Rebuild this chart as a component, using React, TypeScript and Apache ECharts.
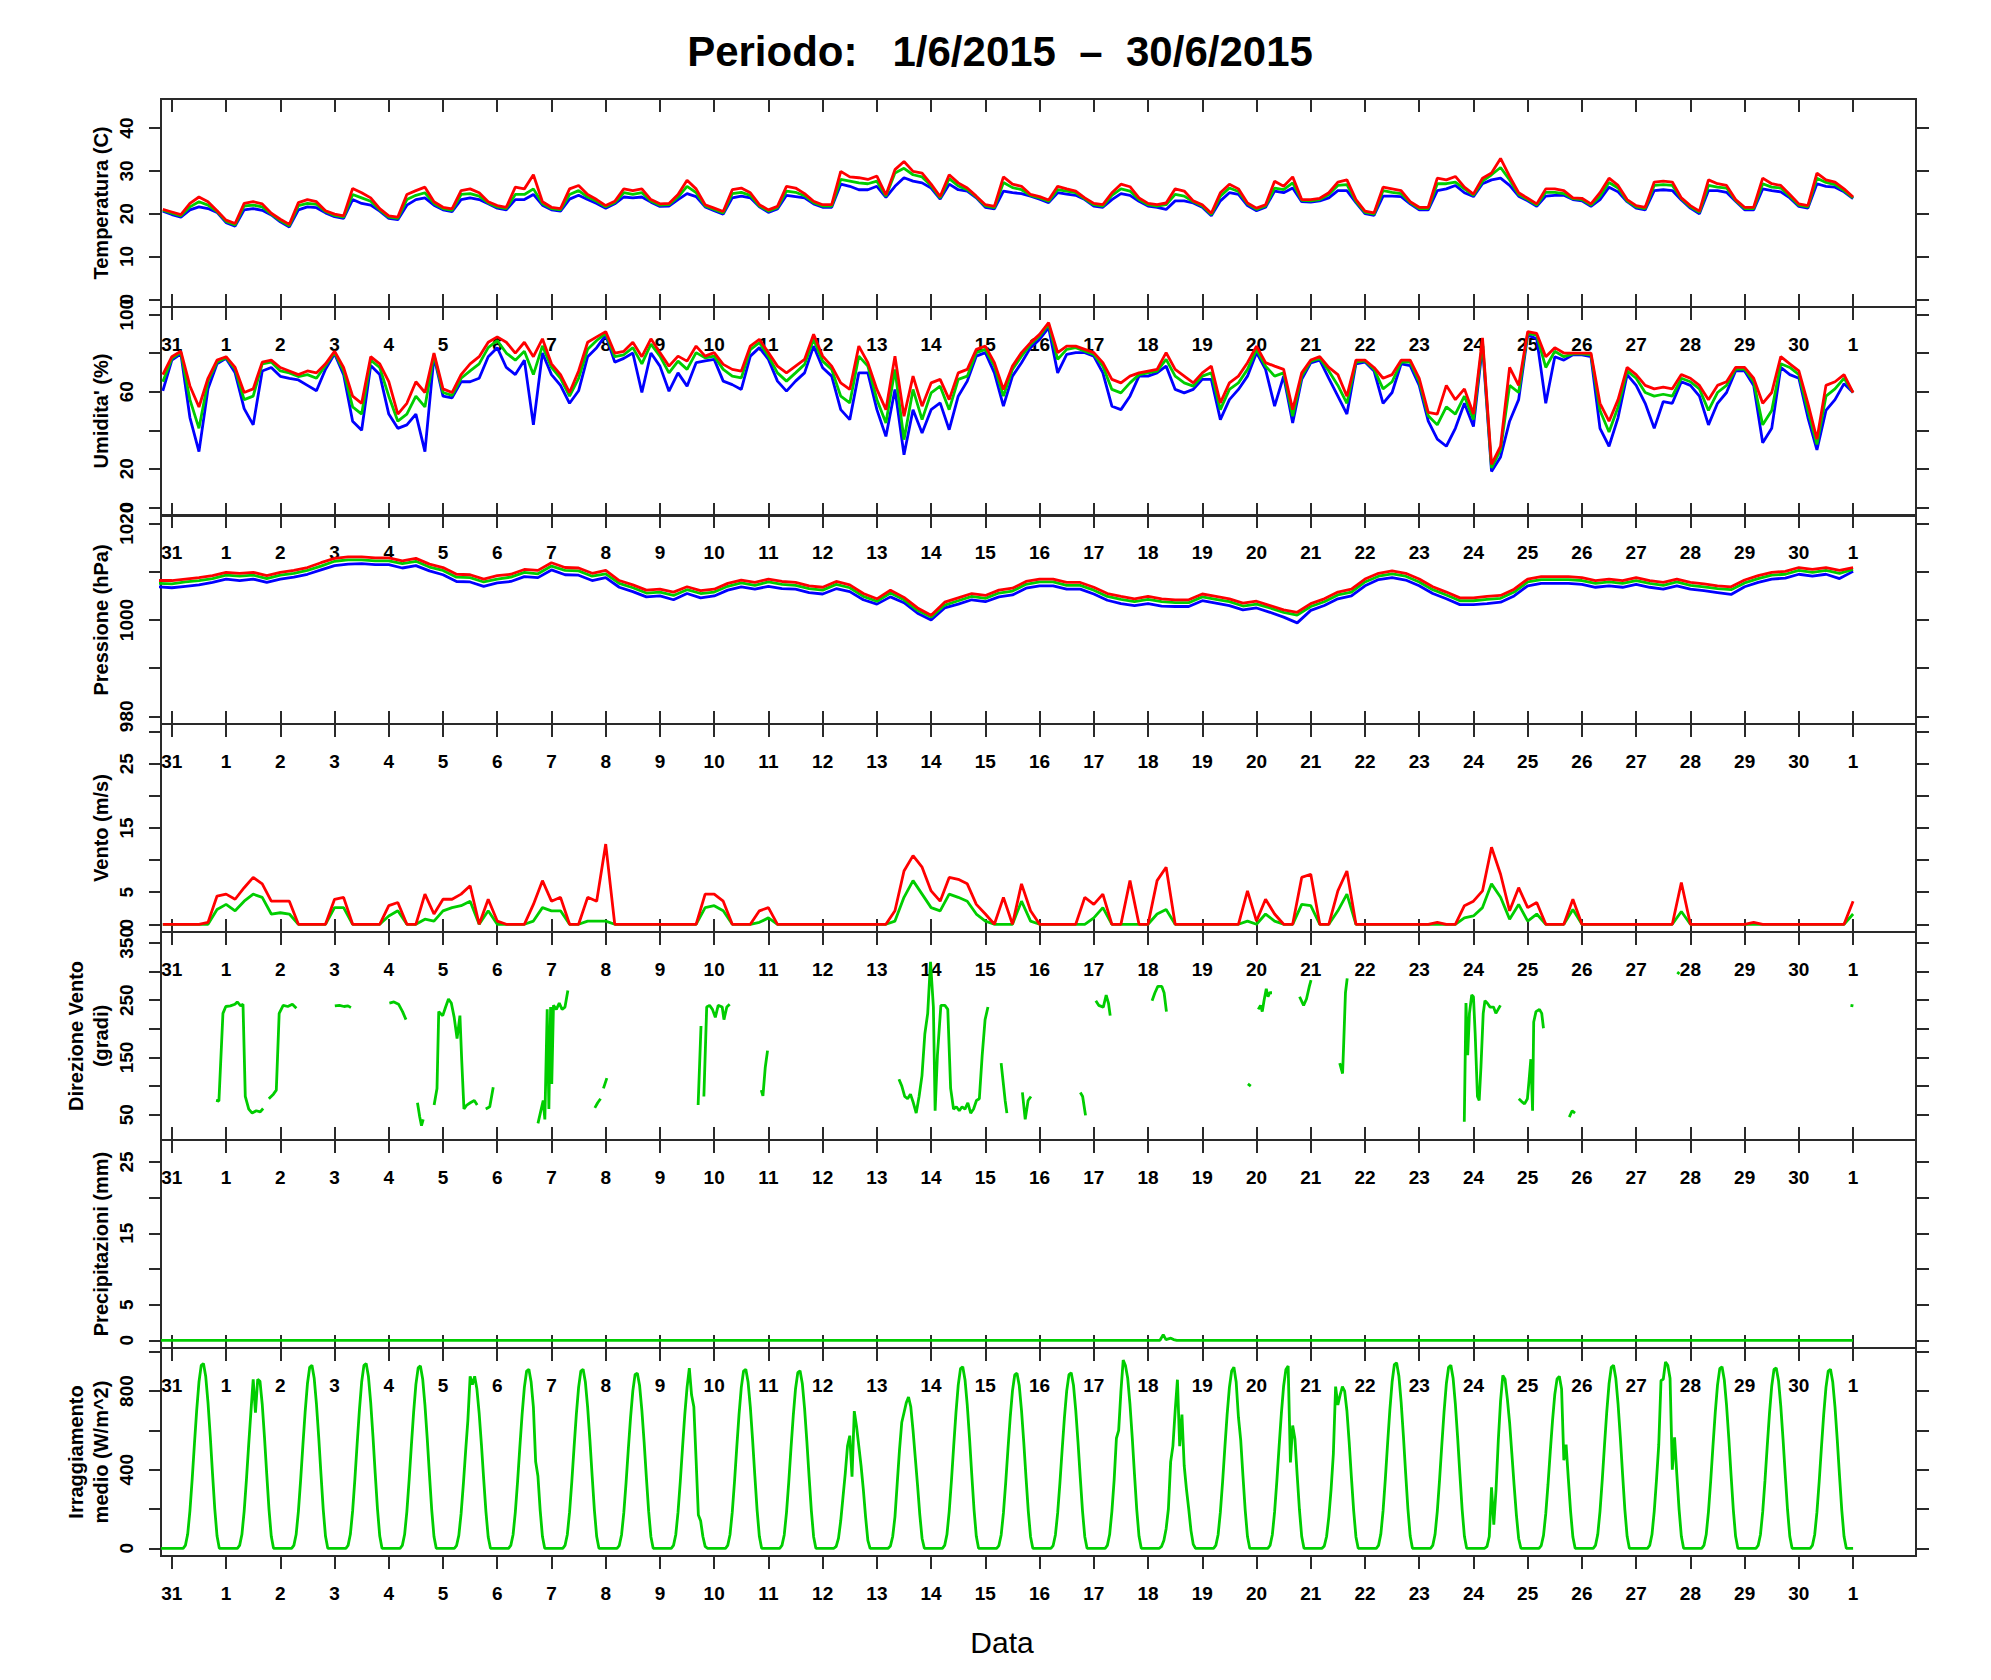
import React, { useEffect, useRef } from 'react';
import * as echarts from 'echarts';

// ---------- x axis (days) ----------
const DAY_LABELS = ['31', '1', '2', '3', '4', '5', '6', '7', '8', '9', '10', '11', '12', '13', '14', '15', '16', '17', '18', '19', '20', '21', '22', '23', '24', '25', '26', '27', '28', '29', '30', '1'];
const X_MIN = -0.2;
const X_MAX = 32.16;

// ---------- Temperature (C), 4-hour samples, first at k=-1/6 ----------
const TEMP_MAX = [
  21.0,
  20.4, 19.8, 22.4, 23.9, 22.8, 20.7,
  18.5, 17.7, 22.4, 22.8, 22.3, 20.1,
  18.7, 17.5, 22.6, 23.3, 22.8, 20.7,
  19.9, 19.5, 25.9, 24.9, 23.7, 21.2,
  19.5, 19.2, 24.5, 25.4, 26.2, 22.8,
  21.5, 21.1, 25.4, 25.8, 24.9, 22.8,
  21.9, 21.5, 26.2, 25.8, 29.1, 22.8,
  21.5, 21.2, 25.8, 26.6, 24.5, 23.3,
  21.9, 22.9, 25.8, 25.4, 25.8, 23.3,
  22.3, 22.4, 24.5, 27.8, 25.8, 22.1,
  21.3, 20.5, 25.6, 26.0, 24.9, 22.1,
  20.9, 21.7, 26.4, 26.0, 24.7, 22.9,
  22.1, 22.1, 29.9, 28.6, 28.4, 28.0,
  28.8, 24.4, 30.3, 32.2, 29.9, 29.5,
  26.9, 24.0, 29.1, 27.2, 26.0, 24.1,
  22.1, 21.7, 28.6, 26.9, 26.4, 24.5,
  24.0, 23.2, 26.4, 25.8, 25.3, 23.7,
  22.4, 22.1, 24.9, 26.9, 26.3, 23.7,
  22.4, 22.1, 22.5, 25.8, 25.3, 23.0,
  22.1, 20.1, 24.9, 26.9, 25.8, 22.5,
  21.3, 22.1, 27.6, 26.4, 28.6, 23.3,
  23.3, 23.6, 24.9, 27.4, 27.9, 23.3,
  20.6, 20.2, 26.2, 25.8, 25.4, 22.8,
  21.5, 21.5, 28.3, 27.9, 28.7, 26.2,
  24.6, 28.3, 29.5, 32.9, 28.7, 24.9,
  23.6, 22.3, 25.8, 25.8, 25.4, 23.7,
  23.6, 22.3, 24.9, 28.3, 26.6, 23.3,
  21.9, 21.5, 27.4, 27.6, 27.4, 23.7,
  21.9, 20.6, 27.9, 27.0, 26.6, 23.3,
  21.5, 21.5, 28.3, 27.0, 26.6, 24.5,
  22.3, 21.9, 29.5, 27.9, 27.4, 25.8,
  23.9,
];
const TEMP_MEAN = [
  20.8,
  20.1, 19.5, 21.6, 22.8, 22.0, 20.5,
  18.2, 17.4, 21.8, 22.0, 21.6, 19.9,
  18.4, 17.2, 21.9, 22.4, 22.2, 20.5,
  19.6, 19.2, 24.5, 23.7, 22.9, 20.9,
  19.2, 18.9, 23.3, 24.3, 24.9, 22.4,
  21.2, 20.8, 24.5, 24.7, 24.1, 22.5,
  21.6, 21.2, 24.5, 24.5, 25.8, 22.4,
  21.2, 20.9, 24.5, 25.4, 23.9, 22.9,
  21.6, 22.6, 24.9, 24.5, 24.9, 23.0,
  22.0, 22.1, 23.9, 26.4, 24.9, 21.8,
  21.0, 20.2, 24.7, 25.0, 24.3, 21.8,
  20.6, 21.4, 25.3, 25.0, 24.2, 22.6,
  21.8, 21.8, 28.0, 27.6, 27.2, 27.0,
  27.6, 24.1, 29.5, 30.6, 29.1, 28.6,
  26.5, 23.7, 28.2, 26.5, 25.6, 23.9,
  21.8, 21.4, 27.3, 26.1, 25.6, 24.3,
  23.7, 22.9, 25.6, 25.3, 24.9, 23.5,
  22.1, 21.8, 24.3, 25.8, 25.3, 23.3,
  22.1, 21.8, 22.1, 24.5, 24.1, 22.8,
  21.8, 19.8, 24.1, 26.0, 25.2, 22.3,
  21.0, 21.8, 26.0, 25.6, 27.2, 23.1,
  23.0, 23.3, 24.5, 26.6, 26.8, 22.9,
  20.3, 19.9, 25.4, 25.0, 24.7, 22.6,
  21.2, 21.2, 27.0, 27.0, 27.4, 25.8,
  24.3, 27.6, 29.1, 30.8, 27.9, 24.5,
  23.3, 22.0, 25.0, 25.0, 24.7, 23.5,
  23.3, 22.0, 24.1, 27.3, 26.0, 23.0,
  21.6, 21.2, 26.6, 26.8, 26.6, 23.5,
  21.6, 20.3, 26.6, 26.2, 26.0, 23.1,
  21.2, 21.2, 27.0, 26.2, 26.0, 24.1,
  22.0, 21.6, 28.3, 27.3, 26.8, 25.4,
  23.7,
];
const TEMP_MIN = [
  20.6,
  19.8, 19.2, 20.9, 21.6, 21.2, 20.3,
  17.9, 17.1, 20.9, 21.2, 20.8, 19.7,
  18.1, 16.9, 20.9, 21.6, 21.4, 20.2,
  19.3, 18.9, 23.3, 22.4, 22.0, 20.6,
  18.9, 18.6, 22.0, 23.3, 23.7, 22.0,
  20.9, 20.5, 23.3, 23.7, 23.3, 22.3,
  21.3, 20.9, 23.3, 23.3, 24.5, 22.0,
  20.9, 20.6, 23.4, 24.3, 23.3, 22.4,
  21.3, 22.3, 23.9, 23.7, 23.9, 22.7,
  21.7, 21.8, 23.3, 24.7, 24.0, 21.6,
  20.7, 19.9, 23.7, 24.1, 23.7, 21.6,
  20.3, 21.1, 24.3, 24.0, 23.7, 22.3,
  21.5, 21.5, 26.9, 26.4, 25.6, 25.6,
  26.4, 23.8, 26.4, 28.4, 27.6, 27.2,
  26.0, 23.4, 26.9, 25.6, 25.3, 23.7,
  21.5, 21.1, 25.3, 24.9, 24.7, 24.1,
  23.4, 22.6, 24.9, 24.6, 24.3, 23.3,
  21.8, 21.5, 23.3, 24.7, 24.3, 22.9,
  21.8, 21.5, 21.0, 23.0, 23.0, 22.5,
  21.5, 19.5, 23.0, 24.9, 24.5, 21.9,
  20.7, 21.5, 25.3, 24.9, 26.0, 22.8,
  22.7, 23.0, 23.7, 25.4, 25.4, 22.6,
  20.0, 19.6, 24.1, 24.1, 24.0, 22.3,
  20.9, 20.9, 25.4, 25.8, 26.6, 24.9,
  24.0, 27.0, 27.9, 28.3, 26.6, 24.1,
  23.0, 21.7, 24.1, 24.3, 24.3, 23.3,
  23.0, 21.7, 23.3, 26.2, 25.1, 22.8,
  21.3, 20.9, 25.4, 25.6, 25.4, 23.2,
  21.3, 20.0, 25.4, 25.4, 25.0, 22.9,
  20.9, 20.9, 25.8, 25.4, 25.1, 23.7,
  21.7, 21.3, 27.0, 26.4, 26.2, 25.1,
  23.5,
];

// ---------- Humidity (%), 4-hour samples ----------
const HUM_MAX = [
  68.9,
  78.2, 81.0, 63.0, 52.1, 67.0, 76.4,
  78.2, 72.6, 59.6, 61.5, 75.4, 76.4,
  72.6, 70.8, 68.9, 70.8, 69.8, 74.5,
  81.0, 72.6, 57.7, 54.0, 78.2, 74.5,
  65.2, 48.4, 54.0, 65.2, 59.6, 80.1,
  61.5, 59.6, 68.9, 74.5, 78.2, 85.7,
  88.5, 85.7, 80.1, 85.7, 78.2, 87.5,
  74.5, 68.9, 59.6, 70.8, 85.7, 88.5,
  91.2, 80.1, 81.0, 85.7, 78.2, 87.5,
  80.3, 73.3, 78.5, 75.9, 83.7, 78.5,
  80.3, 74.2, 71.6, 70.7, 83.7, 87.2,
  80.3, 73.3, 69.8, 73.3, 76.8, 89.8,
  78.5, 73.3, 64.6, 61.2, 83.7, 75.1,
  61.2, 50.7, 78.5, 47.3, 68.1, 52.5,
  64.6, 66.4, 55.9, 69.8, 71.6, 82.0,
  83.7, 75.1, 61.2, 73.3, 80.3, 85.5,
  89.8, 95.9, 80.3, 83.7, 83.7, 82.0,
  80.3, 75.1, 66.4, 64.6, 68.1, 69.8,
  70.7, 71.6, 80.3, 71.6, 68.1, 64.6,
  69.8, 73.3, 54.2, 64.6, 68.1, 75.1,
  83.7, 75.1, 73.3, 71.6, 50.7, 69.8,
  76.5, 78.2, 72.6, 68.9, 57.7, 76.4,
  76.4, 72.6, 67.0, 68.9, 76.4, 76.4,
  67.0, 49.3, 48.4, 63.3, 55.9, 61.5,
  48.4, 88.0, 22.3, 31.7, 72.6, 63.3,
  91.2, 90.3, 78.2, 82.9, 80.1, 80.1,
  80.1, 80.1, 54.0, 44.7, 55.9, 72.6,
  68.9, 63.3, 61.5, 62.4, 61.5, 68.9,
  67.0, 63.3, 55.9, 63.3, 65.2, 72.6,
  72.6, 67.0, 54.0, 59.6, 78.2, 74.5,
  70.8, 54.0, 35.4, 63.3, 65.2, 68.9,
  59.6,
];
const HUM_MEAN = [
  65.2,
  77.3, 80.4, 55.9, 41.0, 65.5, 75.4,
  77.7, 71.7, 55.9, 57.7, 74.5, 75.4,
  70.8, 69.8, 67.9, 68.9, 67.0, 73.6,
  80.4, 70.8, 52.1, 48.4, 76.4, 72.6,
  57.7, 44.7, 48.4, 57.7, 52.1, 79.2,
  59.6, 58.1, 67.0, 70.8, 74.5, 82.9,
  86.6, 80.1, 76.4, 81.0, 68.9, 83.8,
  72.6, 67.0, 57.7, 67.0, 82.0, 86.6,
  90.3, 78.2, 79.2, 82.9, 74.5, 84.7,
  78.5, 69.8, 75.9, 71.6, 80.3, 77.6,
  78.5, 71.6, 68.1, 67.2, 81.9, 85.5,
  78.5, 69.8, 65.5, 69.8, 74.2, 87.2,
  75.9, 71.6, 57.7, 54.2, 78.5, 73.3,
  56.0, 43.8, 71.6, 35.1, 61.2, 45.5,
  59.4, 62.9, 50.7, 66.4, 68.1, 80.3,
  82.0, 73.3, 57.7, 71.6, 78.5, 84.6,
  88.9, 95.0, 76.8, 82.0, 82.9, 81.1,
  79.4, 73.3, 61.2, 59.4, 64.6, 68.9,
  69.8, 70.7, 76.8, 68.1, 64.6, 62.9,
  68.1, 69.8, 50.7, 61.2, 64.6, 71.6,
  82.0, 73.3, 68.1, 69.8, 47.3, 68.1,
  75.8, 77.3, 70.8, 63.3, 54.0, 75.4,
  76.0, 71.7, 61.5, 65.2, 75.4, 75.4,
  65.2, 47.5, 42.8, 52.1, 48.4, 57.7,
  45.6, 86.0, 20.5, 29.8, 63.3, 59.6,
  90.3, 89.4, 72.6, 81.0, 78.2, 79.7,
  79.7, 79.2, 50.3, 39.1, 52.1, 70.8,
  67.0, 59.6, 57.7, 58.7, 57.7, 67.0,
  65.2, 61.5, 50.3, 59.6, 63.3, 71.7,
  71.7, 65.2, 42.8, 50.3, 74.5, 72.6,
  68.9, 50.3, 32.6, 57.7, 61.5, 67.0,
  59.6,
];
const HUM_MIN = [
  60.5,
  76.4, 79.7, 46.6, 28.9, 61.5, 74.5,
  77.3, 69.8, 51.2, 42.8, 70.8, 72.6,
  68.0, 67.0, 66.1, 63.3, 60.5, 71.7,
  79.7, 68.9, 44.7, 40.0, 73.6, 68.9,
  48.4, 41.0, 42.8, 48.4, 28.9, 78.2,
  57.7, 56.8, 65.2, 65.2, 67.0, 78.2,
  82.9, 72.6, 68.9, 76.4, 42.8, 80.1,
  68.9, 63.3, 54.0, 60.5, 78.2, 82.9,
  89.4, 75.4, 77.3, 80.1, 59.6, 80.1,
  73.3, 60.3, 69.8, 62.9, 75.1, 76.0,
  76.8, 65.5, 63.7, 61.2, 78.5, 82.9,
  76.8, 65.5, 60.3, 65.5, 69.8, 83.7,
  72.5, 68.1, 50.7, 45.5, 69.8, 69.8,
  50.7, 36.8, 61.2, 27.3, 50.7, 38.6,
  50.7, 54.2, 40.3, 57.7, 65.5, 78.5,
  80.3, 69.8, 52.5, 68.1, 75.1, 82.9,
  87.2, 93.3, 69.8, 79.4, 80.3, 80.3,
  78.5, 69.8, 52.5, 50.7, 57.7, 68.1,
  68.1, 69.8, 73.3, 61.2, 59.4, 61.2,
  66.4, 66.4, 45.5, 55.9, 61.2, 68.1,
  80.3, 71.6, 52.5, 68.1, 43.8, 66.4,
  75.0, 76.4, 67.0, 57.7, 48.4, 74.5,
  75.4, 70.8, 54.0, 59.6, 74.5, 73.6,
  63.3, 44.7, 35.4, 31.7, 41.0, 54.0,
  41.9, 84.0, 18.6, 26.1, 44.7, 55.9,
  89.4, 87.5, 54.0, 78.2, 76.4, 79.2,
  79.2, 78.2, 41.0, 31.7, 46.6, 68.9,
  63.3, 54.0, 41.0, 54.9, 54.0, 65.2,
  63.3, 57.7, 42.8, 54.0, 59.6, 70.8,
  70.8, 63.3, 33.5, 41.0, 72.6, 68.9,
  67.0, 46.6, 29.8, 50.3, 55.9, 64.2,
  59.6,
];

// ---------- Pressure (hPa), 6-hour samples, first at k=-0.25 ----------
const PRES_MAX = [
  1008.2,
  1008.2, 1008.5, 1008.8, 1009.2,
  1009.9, 1009.7, 1009.9, 1009.2,
  1009.9, 1010.3, 1010.9, 1011.9,
  1012.8, 1013.1, 1013.1, 1012.9,
  1012.9, 1012.3, 1012.8, 1011.6,
  1010.9, 1009.5, 1009.4, 1008.5,
  1009.2, 1009.5, 1010.5, 1010.3,
  1011.9, 1010.9, 1010.8, 1009.7,
  1010.3, 1008.2, 1007.3, 1006.2,
  1006.4, 1005.8, 1006.9, 1006.1,
  1006.4, 1007.6, 1008.3, 1007.8,
  1008.5, 1008.0, 1007.8, 1007.1,
  1006.8, 1008.0, 1007.3, 1005.5,
  1004.4, 1006.2, 1004.7, 1002.5,
  1001.0, 1003.7, 1004.6, 1005.5,
  1005.1, 1006.2, 1006.6, 1008.0,
  1008.5, 1008.5, 1007.8, 1007.8,
  1006.8, 1005.5, 1004.9, 1004.4,
  1004.9, 1004.4, 1004.2, 1004.2,
  1005.4, 1004.9, 1004.4, 1003.5,
  1003.9, 1003.0, 1002.1, 1001.6,
  1003.4, 1004.4, 1005.8, 1006.4,
  1008.5, 1009.7, 1010.2, 1009.7,
  1008.5, 1006.9, 1005.8, 1004.6,
  1004.6, 1004.9, 1005.1, 1006.4,
  1008.5, 1009.0, 1009.0, 1009.0,
  1008.8, 1008.2, 1008.5, 1008.2,
  1008.8, 1008.2, 1007.8, 1008.5,
  1007.8, 1007.5, 1007.1, 1006.9,
  1008.3, 1009.2, 1009.9, 1010.1,
  1010.9, 1010.5, 1010.9, 1010.3,
  1010.9,
];
const PRES_MEAN = [
  1007.6,
  1007.5, 1007.9, 1008.2, 1008.6,
  1009.3, 1009.1, 1009.3, 1008.6,
  1009.3, 1009.7, 1010.3, 1011.2,
  1012.2, 1012.5, 1012.5, 1012.3,
  1012.3, 1011.7, 1012.2, 1011.0,
  1010.3, 1008.9, 1008.8, 1007.9,
  1008.5, 1008.9, 1009.9, 1009.6,
  1011.2, 1010.3, 1010.2, 1009.1,
  1009.6, 1007.6, 1006.7, 1005.6,
  1005.8, 1005.1, 1006.3, 1005.5,
  1005.8, 1007.0, 1007.7, 1007.2,
  1007.9, 1007.4, 1007.2, 1006.5,
  1006.2, 1007.4, 1006.7, 1004.9,
  1003.9, 1005.6, 1004.2, 1002.0,
  1000.6, 1003.1, 1004.0, 1004.9,
  1004.5, 1005.6, 1006.0, 1007.4,
  1007.9, 1007.9, 1007.2, 1007.2,
  1006.2, 1004.9, 1004.3, 1003.8,
  1004.3, 1003.8, 1003.6, 1003.6,
  1004.8, 1004.3, 1003.8, 1002.9,
  1003.3, 1002.5, 1001.6, 1001.0,
  1002.8, 1003.8, 1005.2, 1005.8,
  1007.9, 1009.1, 1009.6, 1009.1,
  1007.9, 1006.3, 1005.2, 1004.0,
  1004.0, 1004.3, 1004.5, 1005.8,
  1007.9, 1008.4, 1008.4, 1008.4,
  1008.2, 1007.6, 1007.9, 1007.6,
  1008.2, 1007.6, 1007.2, 1007.9,
  1007.2, 1006.9, 1006.5, 1006.3,
  1007.7, 1008.6, 1009.3, 1009.5,
  1010.3, 1009.9, 1010.3, 1009.7,
  1010.5,
];
const PRES_MIN = [
  1006.9,
  1006.7, 1007.0, 1007.3, 1007.8,
  1008.5, 1008.2, 1008.5, 1007.8,
  1008.5, 1008.9, 1009.5, 1010.4,
  1011.3, 1011.6, 1011.7, 1011.5,
  1011.5, 1010.8, 1011.3, 1010.2,
  1009.4, 1008.0, 1007.9, 1007.0,
  1007.7, 1008.0, 1009.0, 1008.8,
  1010.4, 1009.4, 1009.3, 1008.2,
  1008.8, 1006.8, 1005.9, 1004.8,
  1005.0, 1004.2, 1005.5, 1004.6,
  1005.0, 1006.2, 1006.9, 1006.4,
  1007.0, 1006.5, 1006.4, 1005.7,
  1005.4, 1006.5, 1005.9, 1004.2,
  1003.3, 1004.8, 1003.6, 1001.4,
  1000.0, 1002.5, 1003.3, 1004.2,
  1003.8, 1004.8, 1005.2, 1006.6,
  1007.1, 1007.1, 1006.4, 1006.4,
  1005.4, 1004.1, 1003.4, 1003.0,
  1003.4, 1002.9, 1002.8, 1002.8,
  1004.0, 1003.5, 1003.0, 1002.1,
  1002.5, 1001.6, 1000.6, 999.4,
  1002.0, 1003.0, 1004.4, 1005.0,
  1007.1, 1008.4, 1008.8, 1008.3,
  1007.1, 1005.5, 1004.4, 1003.2,
  1003.2, 1003.4, 1003.7, 1005.0,
  1007.1, 1007.6, 1007.6, 1007.6,
  1007.4, 1006.8, 1007.1, 1006.8,
  1007.4, 1006.8, 1006.4, 1007.1,
  1006.4, 1006.1, 1005.7, 1005.3,
  1006.9, 1007.8, 1008.5, 1008.7,
  1009.5, 1009.1, 1009.5, 1008.6,
  1010.1,
];

// ---------- Wind (m/s), 4-hour samples ----------
const WIND_GUST = [
  0,
  0, 0, 0, 0, 0.3, 4.4,
  4.7, 3.9, 5.7, 7.3, 6.3, 3.6,
  3.6, 3.6, 0, 0, 0, 0,
  3.9, 4.2, 0, 0, 0, 0,
  2.9, 3.4, 0, 0, 4.7, 1.6,
  3.9, 3.9, 4.7, 6.0, 0, 3.9,
  0.5, 0, 0, 0, 3.1, 6.8,
  3.6, 4.2, 0, 0, 4.2, 3.6,
  12.5, 0, 0, 0, 0, 0,
  0, 0, 0, 0, 0, 4.7,
  4.7, 3.6, 0, 0, 0, 2.1,
  2.6, 0, 0, 0, 0, 0,
  0, 0, 0, 0, 0, 0,
  0, 0, 2.1, 8.3, 10.7, 8.9,
  5.2, 3.6, 7.3, 7.0, 6.3, 3.1,
  1.6, 0, 4.2, 0, 6.3, 2.1,
  0, 0, 0, 0, 0, 4.2,
  3.1, 4.7, 0, 0, 6.8, 0,
  0, 6.8, 8.9, 0, 0, 0,
  0, 0, 0, 0, 0, 5.2,
  0.5, 3.9, 1.6, 0, 0, 7.3,
  7.8, 0, 0, 5.2, 8.3, 0,
  0, 0, 0, 0, 0, 0,
  0, 0, 0.3, 0, 0, 2.9,
  3.6, 5.2, 12.0, 7.8, 2.1, 5.7,
  2.6, 3.4, 0, 0, 0, 3.9,
  0, 0, 0, 0, 0, 0,
  0, 0, 0, 0, 0, 6.5,
  0, 0, 0, 0, 0, 0,
  0, 0.3, 0, 0, 0, 0,
  0, 0, 0, 0, 0, 0,
  3.6,
];
const WIND_MEAN = [
  0,
  0, 0, 0, 0, 0, 2.3,
  3.1, 2.1, 3.6, 4.7, 4.2, 1.6,
  1.8, 1.6, 0, 0, 0, 0,
  2.6, 2.6, 0, 0, 0, 0,
  1.3, 2.1, 0, 0, 0.8, 0.5,
  2.1, 2.6, 2.9, 3.6, 0, 2.1,
  0, 0, 0, 0, 0.5, 2.6,
  2.1, 2.1, 0, 0, 0.5, 0.5,
  0.5, 0, 0, 0, 0, 0,
  0, 0, 0, 0, 0, 2.6,
  2.9, 2.1, 0, 0, 0, 0.3,
  1.0, 0, 0, 0, 0, 0,
  0, 0, 0, 0, 0, 0,
  0, 0, 0.5, 4.2, 6.8, 4.7,
  2.6, 2.1, 4.7, 4.2, 3.6, 1.6,
  0.5, 0, 0, 0, 3.6, 0.5,
  0, 0, 0, 0, 0, 0,
  1.0, 2.6, 0, 0, 0, 0,
  0, 1.6, 2.3, 0, 0, 0,
  0, 0, 0, 0, 0, 0.5,
  0, 1.6, 0.5, 0, 0, 3.1,
  2.9, 0, 0, 2.1, 4.7, 0,
  0, 0, 0, 0, 0, 0,
  0, 0, 0, 0, 0, 1.0,
  1.3, 2.6, 6.3, 4.2, 0.8, 3.1,
  0.5, 1.6, 0, 0, 0, 2.3,
  0, 0, 0, 0, 0, 0,
  0, 0, 0, 0, 0, 2.0,
  0, 0, 0, 0, 0, 0,
  0, 0, 0, 0, 0, 0,
  0, 0, 0, 0, 0, 0,
  1.6,
];

// ---------- Wind direction (degrees): [day, deg] segments, only while wind blows ----------
const DIR_SEGMENTS = [
  [[0.815, 75], [0.868, 74], [0.942, 227], [0.995, 239], [1.079, 240], [1.164, 243], [1.206, 247], [1.27, 240], [1.312, 243], [1.354, 82], [1.418, 60], [1.481, 53], [1.556, 57], [1.63, 55], [1.683, 61]],
  [[1.788, 78], [1.873, 86], [1.926, 93], [1.979, 227], [2.053, 241], [2.138, 239], [2.222, 243], [2.296, 236]],
  [[3.005, 240], [3.09, 241], [3.175, 239], [3.249, 240], [3.302, 237]],
  [[4.011, 245], [4.095, 247], [4.18, 243], [4.254, 230], [4.317, 216]],
  [[4.529, 71], [4.571, 46], [4.603, 31], [4.635, 42]],
  [[4.836, 67], [4.889, 96], [4.921, 230], [4.995, 223], [5.048, 238], [5.101, 252], [5.153, 245], [5.206, 220], [5.259, 183], [5.312, 223], [5.344, 147], [5.386, 60], [5.439, 67], [5.503, 71], [5.577, 75], [5.63, 67]],
  [[5.788, 60], [5.862, 64], [5.926, 98]],
  [[6.751, 35], [6.794, 53], [6.847, 75], [6.878, 42], [6.921, 234], [6.952, 60], [6.984, 238], [7.005, 104], [7.037, 241], [7.09, 234], [7.143, 245], [7.196, 234], [7.249, 238], [7.302, 267]],
  [[7.799, 62], [7.852, 71], [7.905, 78]],
  [[7.958, 96], [8.021, 114]],
  [[9.704, 67], [9.757, 205]],
  [[9.81, 82], [9.862, 238], [9.915, 241], [9.968, 234], [10.021, 220], [10.074, 241], [10.148, 238], [10.18, 216], [10.233, 238], [10.286, 243]],
  [[10.868, 93], [10.899, 83], [10.942, 133], [10.984, 162]],
  [[13.407, 112], [13.46, 100], [13.513, 82], [13.566, 78], [13.619, 86], [13.672, 71], [13.725, 53], [13.778, 82], [13.831, 118], [13.884, 191], [13.937, 227], [13.989, 317], [14.042, 238], [14.074, 57], [14.116, 154], [14.18, 241], [14.254, 241], [14.307, 234], [14.36, 96], [14.413, 60], [14.466, 64], [14.519, 57], [14.571, 64], [14.624, 60], [14.677, 71], [14.73, 53], [14.783, 60], [14.836, 75], [14.889, 78], [14.942, 154], [14.995, 216], [15.048, 238]],
  [[15.291, 140], [15.365, 75], [15.397, 53]],
  [[15.683, 89], [15.735, 42], [15.788, 75], [15.841, 82]],
  [[16.751, 89], [16.794, 82], [16.847, 49]],
  [[17.037, 249], [17.09, 241], [17.175, 238], [17.228, 259], [17.27, 245], [17.302, 223]],
  [[18.074, 249], [18.127, 263], [18.18, 274], [18.254, 274], [18.296, 263], [18.339, 230]],
  [[19.841, 104], [19.894, 100]],
  [[20.032, 234], [20.074, 241], [20.106, 230], [20.138, 249], [20.18, 270], [20.212, 256], [20.243, 263], [20.286, 263]],
  [[20.794, 256], [20.868, 241], [20.921, 252], [20.974, 274], [21.005, 285]],
  [[21.534, 140], [21.587, 122], [21.608, 176], [21.64, 263], [21.672, 288]],
  [[23.831, 38], [23.862, 245], [23.894, 154], [23.926, 227], [23.968, 259], [24.0, 256], [24.032, 191], [24.074, 82], [24.106, 75], [24.138, 133], [24.18, 227], [24.212, 249], [24.254, 245], [24.307, 238], [24.37, 238], [24.413, 227], [24.455, 234], [24.497, 241]],
  [[24.836, 78], [24.889, 73], [24.942, 69], [24.995, 78], [25.026, 111], [25.058, 147], [25.09, 57], [25.111, 212], [25.153, 230], [25.217, 234], [25.259, 227], [25.291, 201]],
  [[25.767, 46], [25.82, 57], [25.873, 53]],
  [[27.757, 299], [27.799, 296]],
  [[30.952, 241], [31.005, 240]],
];

// ---------- Precipitation (mm) ----------
const PRECIP_T = [-0.2, 18.22, 18.28, 18.33, 18.42, 18.47, 18.53, 31.0];
const PRECIP_MM = [0, 0, 0.8, 0.1, 0.3, 0.1, 0, 0];

// ---------- Mean irradiance (W/m^2): one row per day, hourly from 05:00 to 21:00 ----------
const IRR_FIRST_HOUR = 5;
const IRR_ROWS = [
  [0, 15, 71, 190, 352, 532, 703, 846, 931, 940, 874, 741, 570, 380, 200, 62, 0],
  [0, 15, 70, 188, 348, 526, 696, 860, 690, 860, 850, 733, 564, 376, 197, 61, 0],
  [0, 15, 70, 188, 348, 526, 696, 837, 921, 931, 865, 733, 564, 376, 197, 61, 0],
  [0, 15, 71, 190, 352, 532, 703, 846, 931, 940, 874, 741, 570, 380, 200, 62, 0],
  [0, 15, 70, 187, 347, 524, 693, 834, 918, 928, 862, 730, 562, 375, 196, 60, 0],
  [0, 14, 66, 176, 326, 493, 651, 875, 833, 875, 810, 686, 528, 352, 185, 57, 0],
  [0, 15, 69, 184, 340, 515, 681, 819, 902, 911, 846, 718, 440, 368, 193, 60, 0],
  [0, 15, 69, 184, 340, 515, 681, 819, 902, 911, 846, 718, 552, 368, 193, 60, 0],
  [0, 14, 68, 180, 333, 504, 666, 801, 885, 891, 828, 702, 540, 360, 189, 59, 0],
  [0, 15, 69, 184, 340, 515, 681, 819, 917, 780, 720, 450, 170, 140, 60, 10, 0],
  [0, 15, 69, 184, 340, 515, 681, 819, 902, 911, 846, 718, 552, 368, 193, 60, 0],
  [0, 15, 68, 182, 337, 511, 675, 812, 894, 903, 839, 712, 547, 365, 192, 59, 0],
  [0, 10, 50, 140, 260, 380, 520, 573, 364, 698, 620, 520, 420, 300, 160, 40, 0],
  [0, 12, 60, 160, 330, 500, 640, 690, 740, 770, 720, 600, 460, 320, 170, 50, 0],
  [0, 15, 70, 187, 345, 522, 690, 830, 914, 924, 858, 728, 560, 373, 196, 61, 0],
  [0, 14, 68, 180, 333, 504, 666, 801, 882, 891, 828, 702, 540, 360, 189, 59, 0],
  [0, 14, 68, 180, 333, 504, 666, 801, 884, 893, 830, 703, 541, 361, 189, 59, 0],
  [0, 15, 70, 188, 348, 560, 600, 800, 958, 930, 865, 733, 564, 376, 197, 61, 0],
  [0, 10, 40, 100, 200, 440, 520, 700, 858, 520, 680, 420, 300, 200, 90, 20, 0],
  [0, 15, 69, 184, 340, 515, 681, 819, 902, 921, 846, 667, 552, 368, 193, 60, 0],
  [0, 15, 69, 185, 343, 519, 687, 826, 910, 927, 437, 625, 556, 371, 195, 60, 0],
  [0, 12, 60, 160, 300, 480, 823, 729, 780, 823, 800, 700, 540, 360, 190, 58, 0],
  [0, 15, 71, 190, 352, 532, 703, 846, 935, 944, 877, 744, 572, 381, 200, 62, 0],
  [0, 15, 70, 188, 348, 526, 696, 837, 921, 931, 865, 733, 564, 376, 197, 61, 0],
  [0, 10, 60, 310, 120, 300, 550, 750, 880, 860, 760, 640, 480, 320, 170, 50, 0],
  [0, 14, 66, 176, 326, 493, 651, 783, 862, 875, 810, 448, 528, 352, 185, 57, 0],
  [0, 15, 70, 188, 348, 526, 696, 837, 921, 931, 865, 733, 564, 376, 197, 61, 0],
  [0, 15, 70, 188, 348, 526, 854, 860, 948, 931, 865, 400, 564, 376, 197, 61, 0],
  [0, 15, 70, 187, 345, 522, 690, 830, 914, 924, 858, 728, 560, 373, 196, 61, 0],
  [0, 15, 69, 185, 343, 519, 687, 826, 910, 918, 853, 723, 556, 371, 195, 60, 0],
  [0, 15, 69, 184, 340, 515, 681, 819, 902, 911, 846, 718, 552, 368, 193, 60, 0],
];
const IRR_NIGHT = 0;

// ---------- y axis ticks & labels ----------
const TEMP_TICKS = [0, 10, 20, 30, 40];
const TEMP_LABELS = [0, 10, 20, 30, 40];
const HUM_TICKS = [0, 20, 40, 60, 80, 100];
const HUM_LABELS = [0, 20, 60, 100];
const PRES_TICKS = [980, 990, 1000, 1010, 1020];
const PRES_LABELS = [980, 1000, 1020];
const WIND_TICKS = [0, 5, 10, 15, 20, 25, 30];
const WIND_LABELS = [0, 5, 15, 25];
const DIR_TICKS = [50, 100, 150, 200, 250, 300, 350];
const DIR_LABELS = [50, 150, 250, 350];
const PREC_TICKS = [0, 5, 10, 15, 20, 25];
const PREC_LABELS = [0, 5, 15, 25];
const IRR_TICKS = [0, 200, 400, 600, 800, 1000];
const IRR_LABELS = [0, 400, 800];

const FONT = "'Liberation Sans', Arial, Helvetica, sans-serif";
const RED = '#ff0000';
const GREEN = '#00cd00';
const BLUE = '#0000ff';
const INK = '#2a2a2a';

const uniform = (vals: number[], start: number, step: number) => vals.map((v, i) => [start + i * step, v]);

export default function App() {
  const ref = useRef<HTMLDivElement>(null);

  useEffect(() => {
    document.body.style.margin = '0';
    if (!ref.current) return;
    const chart = echarts.init(ref.current, null, { renderer: 'svg' });

    const panels = [
      { name: 'Temperatura (C)', min: -1.8, max: 46.8, ticks: TEMP_TICKS, labels: TEMP_LABELS },
      { name: "Umidita' (%)", min: -4, max: 104, ticks: HUM_TICKS, labels: HUM_LABELS },
      { name: 'Pressione (hPa)', min: 978.4, max: 1021.6, ticks: PRES_TICKS, labels: PRES_LABELS },
      { name: 'Vento (m/s)', min: -1.2, max: 31.2, ticks: WIND_TICKS, labels: WIND_LABELS },
      { name: 'Direzione Vento\n(gradi)', min: 6, max: 369, ticks: DIR_TICKS, labels: DIR_LABELS },
      { name: 'Precipitazioni (mm)', min: -1.08, max: 28.08, ticks: PREC_TICKS, labels: PREC_LABELS },
      { name: 'Irraggiamento\nmedio (W/m^2)', min: -39.2, max: 1019.2, ticks: IRR_TICKS, labels: IRR_LABELS },
    ];
    const TOPS = [99, 307, 516, 724, 932, 1140, 1348];
    const H = 208;
    const LEFT = 161;
    const W = 1755;
    const X_TICKS = DAY_LABELS.map((_, i) => i);
    const tickLine = { color: INK, width: 2 };

    const grid: any[] = [];
    const xAxis: any[] = [];
    const yAxis: any[] = [];
    panels.forEach((p, i) => {
      grid.push({
        left: LEFT, top: TOPS[i], width: W, height: H,
        show: true, borderColor: INK, borderWidth: 2, backgroundColor: 'transparent',
        containLabel: false, outerBoundsMode: 'none',
      });
      xAxis.push({
        type: 'value', gridIndex: i, position: 'bottom', min: X_MIN, max: X_MAX,
        axisLine: { show: false, onZero: false },
        axisTick: { show: true, customValues: X_TICKS, length: 13, inside: false, lineStyle: tickLine },
        axisLabel: {
          show: true, customValues: X_TICKS, formatter: (v: number) => DAY_LABELS[Math.round(v)],
          margin: 28, fontSize: 19, fontWeight: 'bold', color: '#000', fontFamily: FONT, hideOverlap: false,
        },
        splitLine: { show: false },
      });
      xAxis.push({
        type: 'value', gridIndex: i, position: 'top', min: X_MIN, max: X_MAX,
        axisLine: { show: false, onZero: false },
        axisTick: { show: true, customValues: X_TICKS, length: 13, inside: i === 0, lineStyle: tickLine },
        axisLabel: { show: false },
        splitLine: { show: false },
      });
      yAxis.push({
        type: 'value', gridIndex: i, position: 'left', min: p.min, max: p.max,
        name: p.name, nameLocation: 'middle', nameGap: 48, nameRotate: 90, nameMoveOverlap: false,
        nameTextStyle: { fontSize: 20, fontWeight: 'bold', color: '#000', fontFamily: FONT, lineHeight: 25 },
        axisLine: { show: false, onZero: false },
        axisTick: { show: true, customValues: p.ticks, length: 12, inside: false, lineStyle: tickLine },
        axisLabel: {
          show: true, customValues: p.labels, rotate: 90, margin: 25,
          formatter: (v: number) => String(v),
          fontSize: 19, fontWeight: 'bold', color: '#000', fontFamily: FONT, hideOverlap: false,
        },
        splitLine: { show: false },
      });
      yAxis.push({
        type: 'value', gridIndex: i, position: 'right', min: p.min, max: p.max,
        axisLine: { show: false, onZero: false },
        axisTick: { show: true, customValues: p.ticks, length: 13, inside: false, lineStyle: tickLine },
        axisLabel: { show: false },
        splitLine: { show: false },
      });
    });

    const line = (panel: number, data: any[], color: string, z: number) => ({
      type: 'line', xAxisIndex: panel * 2, yAxisIndex: panel * 2, data,
      showSymbol: false, symbol: 'none', connectNulls: false, clip: true, silent: true,
      lineStyle: { color, width: 2.8 }, itemStyle: { color }, z, animation: false,
    });

    const tStart = -1 / 6;
    const tStep = 1 / 6;
    const pStart = -0.25;
    const pStep = 0.25;

    const dirData: any[] = [];
    DIR_SEGMENTS.forEach((seg, si) => {
      if (si > 0) dirData.push([seg[0][0] - 0.01, null]);
      seg.forEach((pt) => dirData.push([pt[0], pt[1]]));
    });

    const precipData = PRECIP_T.map((t, i) => [t, PRECIP_MM[i]]);

    const irrData: any[] = [[X_MIN, IRR_NIGHT]];
    IRR_ROWS.forEach((row, day) => {
      row.forEach((v, h) => irrData.push([day + (IRR_FIRST_HOUR + h) / 24, v]));
    });
    irrData.push([DAY_LABELS.length - 1, IRR_NIGHT]);

    const series = [
      line(0, uniform(TEMP_MIN, tStart, tStep), BLUE, 2),
      line(0, uniform(TEMP_MEAN, tStart, tStep), GREEN, 3),
      line(0, uniform(TEMP_MAX, tStart, tStep), RED, 4),
      line(1, uniform(HUM_MIN, tStart, tStep), BLUE, 2),
      line(1, uniform(HUM_MEAN, tStart, tStep), GREEN, 3),
      line(1, uniform(HUM_MAX, tStart, tStep), RED, 4),
      line(2, uniform(PRES_MIN, pStart, pStep), BLUE, 2),
      line(2, uniform(PRES_MEAN, pStart, pStep), GREEN, 3),
      line(2, uniform(PRES_MAX, pStart, pStep), RED, 4),
      line(3, uniform(WIND_MEAN, tStart, tStep), GREEN, 3),
      line(3, uniform(WIND_GUST, tStart, tStep), RED, 4),
      line(4, dirData, GREEN, 3),
      line(5, precipData, GREEN, 3),
      line(6, irrData, GREEN, 3),
    ];

    chart.setOption({
      animation: false,
      backgroundColor: '#ffffff',
      textStyle: { fontFamily: FONT },
      grid, xAxis, yAxis, series,
      graphic: [
        {
          type: 'text', x: 1000, y: 51, silent: true,
          style: {
            text: 'Periodo:   1/6/2015  \u2013  30/6/2015', fill: '#000',
            font: `bold 42px ${FONT}`, textAlign: 'center', textVerticalAlign: 'middle',
          },
        },
        {
          type: 'text', x: 1002, y: 1642, silent: true,
          style: { text: 'Data', fill: '#000', font: `30px ${FONT}`, textAlign: 'center', textVerticalAlign: 'middle' },
        },
      ],
    });

    return () => chart.dispose();
  }, []);

  return <div ref={ref} style={{ width: 1991, height: 1680, background: '#fff' }} />;
}
